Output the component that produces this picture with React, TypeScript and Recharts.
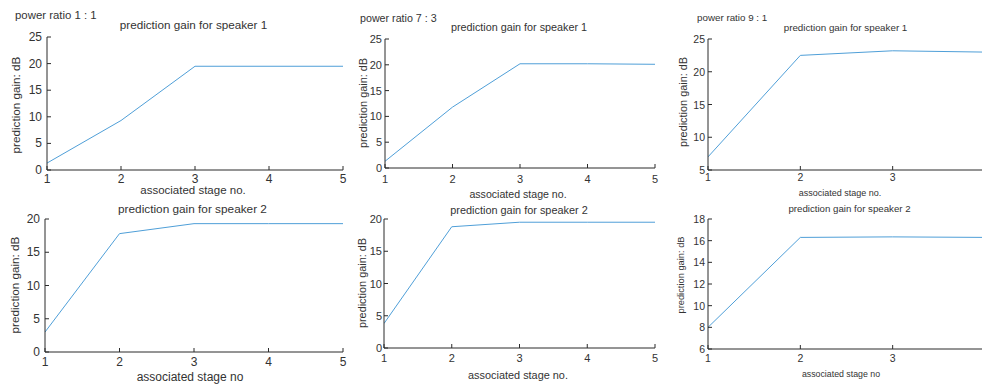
import React from 'react';
import { LineChart, Line, XAxis, YAxis } from 'recharts';

// ---------- data ----------
const stages = [1, 2, 3, 4, 5];
const stagesRatio91 = [1, 2, 3, 4];
const visibleTicksRatio91 = [1, 2, 3];

const gainRatio11Speaker1 = [1.3, 9.3, 19.5, 19.5, 19.5];
const gainRatio73Speaker1 = [1.3, 11.8, 20.2, 20.2, 20.1];
const gainRatio91Speaker1 = [7.0, 22.5, 23.2, 23.0];
const gainRatio11Speaker2 = [3.0, 17.8, 19.3, 19.3, 19.3];
const gainRatio73Speaker2 = [3.8, 18.8, 19.5, 19.5, 19.5];
const gainRatio91Speaker2 = [8.0, 16.3, 16.35, 16.3];

const yTicks0to25 = [0, 5, 10, 15, 20, 25];
const yTicks5to25 = [5, 10, 15, 20, 25];
const yTicks0to20 = [0, 5, 10, 15, 20];
const yTicks6to18 = [6, 8, 10, 12, 14, 16, 18];

const powerRatioLabels = ['power ratio 1 : 1', 'power ratio 7 : 3', 'power ratio 9 : 1'];
const titleSpeaker1 = 'prediction gain for speaker 1';
const titleSpeaker2 = 'prediction gain for speaker 2';
const yAxisLabel = 'prediction gain: dB';
const xAxisLabelDot = 'associated stage no.';
const xAxisLabel = 'associated stage no';

// ---------- styles ----------
const FONT = '"Liberation Sans", Arial, sans-serif';
const FRAME = '#2b2b2b';
const TEXT = '#333333';
const LINE = '#4f9fd8';
const TICK_LEN = 4;

const makeBottomTick = (gap: number, fs: number) => (props: any) => {
  const { x, y, payload } = props;
  const ay = y - gap;
  return (
    <g>
      <line x1={x} x2={x} y1={ay} y2={ay - TICK_LEN} stroke={FRAME} strokeWidth={1} />
      <text x={x} y={y} textAnchor="middle" dominantBaseline="central" fontSize={fs} fontFamily={FONT} fill={TEXT}>
        {payload.value}
      </text>
    </g>
  );
};
const topTick = (props: any) => {
  const { x, y } = props;
  return <line x1={x} x2={x} y1={y} y2={y + TICK_LEN} stroke={FRAME} strokeWidth={1} />;
};
const makeLeftTick = (gap: number, fs: number) => (props: any) => {
  const { x, y, payload } = props;
  const ax = x + gap;
  return (
    <g>
      <line x1={ax} x2={ax + TICK_LEN} y1={y} y2={y} stroke={FRAME} strokeWidth={1} />
      <text x={x} y={y} textAnchor="end" dominantBaseline="central" fontSize={fs} fontFamily={FONT} fill={TEXT}>
        {payload.value}
      </text>
    </g>
  );
};
const rightTick = (props: any) => {
  const { x, y } = props;
  return <line x1={x} x2={x - TICK_LEN} y1={y} y2={y} stroke={FRAME} strokeWidth={1} />;
};

type PanelCfg = {
  L: number; T: number; R: number; B: number;
  xs: number[]; ys: number[]; xTicks: number[];
  xDomain: [number, number]; yDomain: [number, number]; yTicks: number[];
  fs: number; yGap: number; xGap: number;
};

const panels: PanelCfg[] = [
  { L: 47, T: 37, R: 343, B: 170, xs: stages, ys: gainRatio11Speaker1, xTicks: stages, xDomain: [1, 5], yDomain: [0, 25], yTicks: yTicks0to25, fs: 12, yGap: 5, xGap: 9 },
  { L: 385, T: 39, R: 655, B: 168, xs: stages, ys: gainRatio73Speaker1, xTicks: stages, xDomain: [1, 5], yDomain: [0, 25], yTicks: yTicks0to25, fs: 11, yGap: 3, xGap: 11 },
  { L: 708, T: 39, R: 985, B: 170, xs: stagesRatio91, ys: gainRatio91Speaker1, xTicks: visibleTicksRatio91, xDomain: [1, 4], yDomain: [5, 25], yTicks: yTicks5to25, fs: 10.5, yGap: 3, xGap: 7 },
  { L: 45, T: 219, R: 343, B: 352, xs: stages, ys: gainRatio11Speaker2, xTicks: stages, xDomain: [1, 5], yDomain: [0, 20], yTicks: yTicks0to20, fs: 12, yGap: 5, xGap: 10 },
  { L: 384, T: 219, R: 655, B: 348, xs: stages, ys: gainRatio73Speaker2, xTicks: stages, xDomain: [1, 5], yDomain: [0, 20], yTicks: yTicks0to20, fs: 11, yGap: 2, xGap: 10 },
  { L: 708, T: 219, R: 985, B: 349, xs: stagesRatio91, ys: gainRatio91Speaker2, xTicks: visibleTicksRatio91, xDomain: [1, 4], yDomain: [6, 18], yTicks: yTicks6to18, fs: 10.5, yGap: 3, xGap: 8.5 },
];

function Panel({ cfg }: { cfg: PanelCfg }) {
  const { L, T, R, B, xs, ys, xTicks, xDomain, yDomain, yTicks, fs, yGap, xGap } = cfg;
  const data = xs.map((s, i) => ({ stage: s, gain: ys[i] }));
  const mL = 50, mT = 10, mR = 10, xH = 30;
  const w = R - L + mL + mR;
  const h = B - T + mT + xH;
  return (
    <div style={{ position: 'absolute', left: L - mL, top: T - mT }}>
      <LineChart width={w} height={h} data={data} margin={{ top: mT, right: mR, left: 0, bottom: 0 }}>
        <XAxis xAxisId="b" dataKey="stage" type="number" domain={xDomain} ticks={xTicks} interval={0}
          height={xH} orientation="bottom" tickSize={0} tickMargin={xGap} tickLine={false}
          axisLine={{ stroke: FRAME }} tick={makeBottomTick(xGap, fs)} allowDataOverflow />
        <XAxis xAxisId="t" dataKey="stage" type="number" domain={xDomain} ticks={xTicks} interval={0}
          height={0} orientation="top" tickSize={0} tickMargin={0} tickLine={false}
          axisLine={{ stroke: FRAME }} tick={topTick} allowDataOverflow />
        <YAxis yAxisId="l" type="number" domain={yDomain} ticks={yTicks} interval={0}
          width={mL} tickSize={0} tickMargin={yGap} tickLine={false}
          axisLine={{ stroke: FRAME }} tick={makeLeftTick(yGap, fs)} allowDataOverflow />
        <YAxis yAxisId="r" orientation="right" type="number" domain={yDomain} ticks={yTicks} interval={0}
          width={0} tickSize={0} tickMargin={0} tickLine={false}
          axisLine={{ stroke: FRAME }} tick={rightTick} allowDataOverflow />
        <Line xAxisId="b" yAxisId="l" type="linear" dataKey="gain" stroke={LINE} strokeWidth={1}
          dot={false} activeDot={false} isAnimationActive={false} />
      </LineChart>
    </div>
  );
}

type TextCfg = { text: string; x: number; y: number; fs: number; rotate?: boolean; left?: boolean };

const texts: TextCfg[] = [
  { text: powerRatioLabels[0], x: 15, y: 16, fs: 11.4, left: true },
  { text: powerRatioLabels[1], x: 360, y: 18, fs: 10.7, left: true },
  { text: powerRatioLabels[2], x: 697, y: 18, fs: 9.8, left: true },
  { text: titleSpeaker1, x: 193.5, y: 25, fs: 11.7 },
  { text: titleSpeaker1, x: 519, y: 27, fs: 10.8 },
  { text: titleSpeaker1, x: 845.5, y: 28, fs: 9.8 },
  { text: titleSpeaker2, x: 192.5, y: 210, fs: 11.8 },
  { text: titleSpeaker2, x: 519, y: 209.5, fs: 10.9 },
  { text: titleSpeaker2, x: 849.5, y: 209, fs: 9.7 },
  { text: xAxisLabelDot, x: 193, y: 191, fs: 11.5 },
  { text: xAxisLabelDot, x: 518, y: 194, fs: 10.6 },
  { text: xAxisLabelDot, x: 840, y: 193, fs: 9 },
  { text: xAxisLabel, x: 190, y: 377, fs: 12 },
  { text: xAxisLabelDot, x: 518, y: 375, fs: 10.9 },
  { text: xAxisLabel, x: 841, y: 374, fs: 8.8 },
  { text: yAxisLabel, x: 15.7, y: 105, fs: 11.7, rotate: true },
  { text: yAxisLabel, x: 363, y: 103, fs: 10.9, rotate: true },
  { text: yAxisLabel, x: 683, y: 102, fs: 10.9, rotate: true },
  { text: yAxisLabel, x: 15, y: 285, fs: 11.7, rotate: true },
  { text: yAxisLabel, x: 362, y: 283, fs: 10.9, rotate: true },
  { text: yAxisLabel, x: 682, y: 275, fs: 9.3, rotate: true },
];

export default function App() {
  return (
    <div style={{ position: 'absolute', left: 0, top: 0, width: 982, height: 385, overflow: 'hidden', background: '#ffffff' }}>
      {panels.map((p, i) => <Panel key={i} cfg={p} />)}
      {texts.map((t, i) => (
        <span key={'t' + i} style={{
          position: 'absolute', left: t.x, top: t.y, fontSize: t.fs, fontFamily: FONT, color: TEXT,
          whiteSpace: 'nowrap', lineHeight: 1,
          transform: t.rotate ? 'translate(-50%,-50%) rotate(-90deg)' : t.left ? 'translate(0,-50%)' : 'translate(-50%,-50%)',
        }}>{t.text}</span>
      ))}
    </div>
  );
}
